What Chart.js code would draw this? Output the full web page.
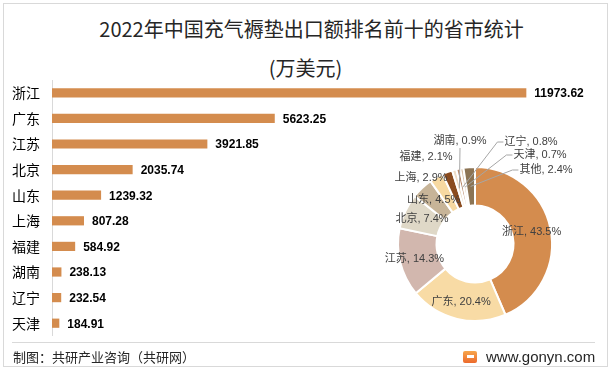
<!DOCTYPE html>
<html>
<head>
<meta charset="utf-8">
<script src="https://cdn.jsdelivr.net/npm/chart.js@4.4.0/dist/chart.umd.min.js"></script>
<style>
html, body { margin: 0; padding: 0; background: #fff; }
#wrap { position: relative; width: 611px; height: 370px; overflow: hidden; font-family: "Noto Sans CJK SC", sans-serif; }
#frame { position: absolute; left: 3px; top: 3px; width: 605px; height: 364px; border: 1px solid #d9d9d9; box-sizing: border-box; }
.title { position: absolute; width: 611px; text-align: center; font-size: 20px; line-height: 24px; color: #262626; }
#t1 { left: 6px; top: 17px; }
#t2 { left: 0; top: 56px; }
#barBox { position: absolute; left: 0; top: 80px; width: 611px; height: 256px; }
#pieBox { position: absolute; left: 355px; top: 124px; width: 240px; height: 240px; }
#foot { position: absolute; left: 12px; top: 342px; width: 583px; border-top: 1px solid #d9d9d9; }
#src { position: absolute; left: 13px; top: 349px; font-size: 13px; line-height: 16px; color: #262626; }
#site { position: absolute; left: 486px; top: 348px; font-family: "Liberation Sans", sans-serif; font-size: 15px; line-height: 18px; color: #262626; }
#logo { position: absolute; left: 463px; top: 351px; width: 14px; height: 12px; border-radius: 2px; background: linear-gradient(#f7a64c, #ec6a2c); }
#logo i { position: absolute; left: 4px; top: 4px; width: 7px; height: 3px; background: #fff; }
</style>
</head>
<body>
<div id="wrap">
  <div id="frame"></div>
  <div class="title" id="t1">2022年中国充气褥垫出口额排名前十的省市统计</div>
  <div class="title" id="t2">(万美元)</div>
  <div id="barBox"><canvas id="barChart"></canvas></div>
  <div id="pieBox"><canvas id="pieChart"></canvas></div>
  <div id="foot"></div>
  <div id="src">制图：共研产业咨询（共研网）</div>
  <div id="logo"><i></i></div>
  <div id="site">www.gonyn.com</div>
</div>
<script>
// 出口额（万美元）
var provinces = ['浙江', '广东', '江苏', '北京', '山东', '上海', '福建', '湖南', '辽宁', '天津'];
var exportValues = [11973.62, 5623.25, 3921.85, 2035.74, 1239.32, 807.28, 584.92, 238.13, 232.54, 184.91];

// 占比（%）
var shareLabels = ['浙江', '广东', '江苏', '北京', '山东', '上海', '福建', '湖南', '辽宁', '天津', '其他'];
var shareValues = [43.5, 20.4, 14.3, 7.4, 4.5, 2.9, 2.1, 0.9, 0.8, 0.7, 2.4];

var barColor = '#d48c4e';
var pieColors = ['#d48c4e', '#f8dba5', '#d2b7ae', '#dfd8c7', '#c7b498', '#f7d9a1', '#8a4b1f', '#eedcc6', '#b8896a', '#d9c2a8', '#8c7454'];

// label placement for the doughnut: ring position (0 = inner edge, 1 = outer edge) or offset from centre
var ringPos = { '浙江': 0.5, '广东': 0.55, '江苏': 0.62, '北京': 0.52, '山东': 0.56 };
var outsidePos = {
    '上海': [-54, -66], '福建': [-49, -87], '湖南': [-15, -103],
    '辽宁': [56, -102], '天津': [65, -89], '其他': [71, -74]
};
var leaderLines = ['湖南', '辽宁', '天津', '其他'];

var valueLabels = {
    id: 'valueLabels',
    afterDatasetsDraw: function(chart) {
        var ctx = chart.ctx;
        ctx.save();
        ctx.font = 'bold 12px "Liberation Sans", Arial, sans-serif';
        ctx.fillStyle = '#000';
        ctx.textBaseline = 'middle';
        chart.getDatasetMeta(0).data.forEach(function(bar, i) {
            ctx.fillText(exportValues[i].toFixed(2), bar.x + 8, bar.y + 1);
        });
        ctx.restore();
    }
};

var pieLabels = {
    id: 'pieLabels',
    afterDatasetsDraw: function(chart) {
        var ctx = chart.ctx;
        ctx.save();
        ctx.font = '11px "Liberation Sans", "Noto Sans CJK SC", sans-serif';
        ctx.textBaseline = 'middle';
        ctx.textAlign = 'center';
        chart.getDatasetMeta(0).data.forEach(function(arc, i) {
            var name = shareLabels[i];
            var text = name + ', ' + shareValues[i].toFixed(1) + '%';
            var mid = (arc.startAngle + arc.endAngle) / 2;
            var rMid = (arc.innerRadius + arc.outerRadius) / 2;
            var lx, ly;
            if (ringPos[name] !== undefined) {
                var r = arc.innerRadius + ringPos[name] * (arc.outerRadius - arc.innerRadius);
                lx = arc.x + Math.cos(mid) * r;
                ly = arc.y + Math.sin(mid) * r;
            } else {
                lx = arc.x + outsidePos[name][0];
                ly = arc.y + outsidePos[name][1];
            }
            if (leaderLines.indexOf(name) >= 0) {
                var ex = arc.x + Math.cos(mid) * rMid;
                var ey = arc.y + Math.sin(mid) * rMid;
                var w = ctx.measureText(text).width;
                ctx.strokeStyle = '#a6a6a6';
                ctx.lineWidth = 1;
                ctx.beginPath();
                if (lx < arc.x) {
                    ctx.moveTo(lx, ly + 7);
                } else {
                    ctx.moveTo(lx - w / 2 - 1, ly);
                    ctx.lineTo(lx - w / 2 - 7, ly);
                }
                ctx.lineTo(ex, ey);
                ctx.stroke();
            }
            ctx.fillStyle = '#404040';
            ctx.fillText(text, lx, ly);
        });
        ctx.restore();
    }
};

document.addEventListener('DOMContentLoaded', function() {
    var ctxBar = document.getElementById('barChart').getContext('2d');
    var barChart = new Chart(ctxBar, {
        type: 'bar',
        data: {
            labels: provinces,
            datasets: [{
                label: '出口额',
                data: exportValues,
                backgroundColor: barColor,
                barPercentage: 0.36,
                categoryPercentage: 1
            }]
        },
        options: {
            indexAxis: 'y',
            responsive: true,
            maintainAspectRatio: false,
            animation: false,
            layout: { padding: { left: 0, right: 44, top: 0, bottom: 0 } },
            plugins: { legend: { display: false }, tooltip: { enabled: false } },
            scales: {
                x: { display: false, min: 0, max: 13000 },
                y: {
                    grid: { display: false, drawTicks: false },
                    border: { display: true, color: '#d9d9d9', width: 1 },
                    ticks: { color: '#000', padding: 12, font: { family: '"Noto Sans CJK SC"', size: 14 } },
                    afterFit: function(scale) {
                        scale.width = 52;
                        scale.paddingTop = 0;
                        scale.paddingBottom = 0;
                    }
                }
            }
        },
        plugins: [valueLabels]
    });

    var ctxPie = document.getElementById('pieChart').getContext('2d');
    var pieChart = new Chart(ctxPie, {
        type: 'doughnut',
        data: {
            labels: shareLabels,
            datasets: [{
                data: shareValues,
                backgroundColor: pieColors,
                borderColor: '#fff',
                borderWidth: 2
            }]
        },
        options: {
            responsive: true,
            maintainAspectRatio: false,
            animation: false,
            cutout: '50%',
            layout: { padding: 42 },
            plugins: { legend: { display: false }, tooltip: { enabled: false } }
        },
        plugins: [pieLabels]
    });
});
</script>
</body>
</html>
